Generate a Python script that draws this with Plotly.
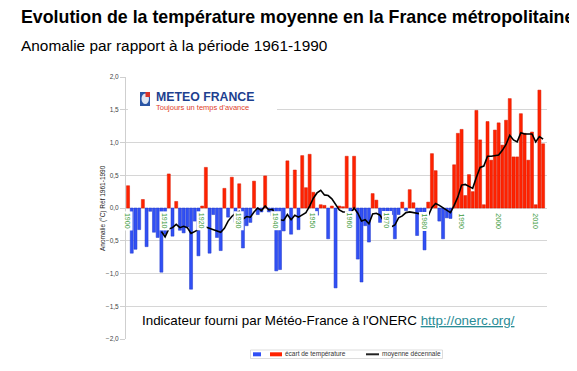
import plotly.graph_objects as go

# ---------------- data ----------------
years = list(range(1900, 2013))
anomaly = [
    0.34, -0.69, -0.63, -0.33, 0.13, -0.59, -0.05, -0.37, -0.45, -0.98,   # 1900-1909
    -0.40, 0.52, -0.43, 0.10, -0.34, -0.38, -0.29, -1.24, -0.20, -0.73,   # 1910-1919
    0.03, 0.62, -0.69, -0.10, -0.45, -0.65, 0.30, -0.14, 0.47, -0.22,     # 1920-1929
    0.37, -0.61, -0.27, -0.22, 0.41, -0.10, -0.06, 0.49, -0.06, -0.12,    # 1930-1939
    -0.96, -0.94, -0.35, 0.72, -0.40, 0.58, -0.33, 0.80, 0.31, 0.82,      # 1940-1949
    0.24, -0.11, 0.05, 0.04, -0.47, 0.03, -1.22, 0.03, 0.02, 0.79,        # 1950-1959
    -0.06, 0.79, -0.78, -1.13, -0.27, -0.52, 0.22, 0.12, -0.22, -0.12,    # 1960-1969
    -0.08, -0.10, -0.47, -0.10, 0.09, -0.04, 0.28, 0.08, -0.42, -0.11,    # 1970-1979
    -0.64, 0.09, 0.83, 0.57, -0.20, -0.47, -0.15, -0.16, 0.66, 1.14,      # 1980-1989
    1.20, 0.19, 0.51, 0.25, 1.49, 1.04, 0.05, 1.32, 0.73, 1.19,           # 1990-1999
    1.30, 0.96, 1.34, 1.67, 0.78, 0.78, 1.44, 1.14, 0.73, 1.16,           # 2000-2009
    0.05, 1.80, 0.98,                                                     # 2010-2012
]

decadal_years = list(range(1909, 2013))
decadal_mean = [
    -0.36,                                                                 # 1909
    -0.44, -0.32, -0.30, -0.25, -0.30, -0.28, -0.30, -0.39, -0.36, -0.34,  # 1910-1919
    -0.30, -0.29, -0.31, -0.33, -0.34, -0.37, -0.31, -0.20, -0.13, -0.08,  # 1920-1929
    -0.05, -0.17, -0.13, -0.14, -0.06, 0.00, -0.04, 0.03, -0.03, -0.02,    # 1930-1939
    -0.15, -0.18, -0.19, -0.10, -0.18, -0.11, -0.14, -0.11, -0.07, 0.03,   # 1940-1949
    0.15, 0.23, 0.27, 0.20, 0.19, 0.14, 0.05, -0.03, -0.06, -0.06,         # 1950-1959
    -0.09, 0.00, -0.08, -0.20, -0.18, -0.24, -0.09, -0.08, -0.11, -0.20,   # 1960-1969
    -0.20, -0.29, -0.26, -0.15, -0.12, -0.07, -0.06, -0.07, -0.09, -0.09,  # 1970-1979
    -0.14, -0.12, 0.01, 0.07, 0.04, 0.00, -0.04, -0.07, 0.04, 0.17,        # 1980-1989
    0.35, 0.36, 0.33, 0.30, 0.47, 0.62, 0.64, 0.79, 0.79, 0.80,            # 1990-1999
    0.81, 0.88, 0.97, 1.11, 1.04, 1.01, 1.15, 1.13, 1.13, 1.13,            # 2000-2009
    1.01, 1.09, 1.05,                                                      # 2010-2012
]

label_years = [1900, 1910, 1920, 1930, 1940, 1950, 1960, 1970, 1980, 1990, 2000, 2010]
y_ticks = [2.0, 1.5, 1.0, 0.5, 0.0, -0.5, -1.0, -1.5, -2.0]

title_text = "Evolution de la température moyenne en la France métropolitaine"
subtitle_text = "Anomalie par rapport à la période 1961-1990"
yaxis_title = "Anomalie (°C) Réf 1961-1990"
legend_bar_name = "écart de température"
legend_line_name = "moyenne décennale"
source_text = "Indicateur fourni par Météo-France à l'ONERC "
source_url = "http://onerc.org/"
logo_name = "METEO FRANCE"
logo_slogan = "Toujours un temps d'avance"

# ---------------- layout geometry (reference pixel coords) ----------------
OFF = 8                      # page body margin offsets the figure
W, H = 577 - OFF, 371 - OFF
PL, PR, PT, PB = 126, 547, 77, 339   # plot area in reference pixels
ML, MT = PL - OFF, PT - OFF
MR, MB = (W + OFF) - PR, (H + OFF) - PB
PW, PH = PR - PL, PB - PT
FONT = "Liberation Sans, Arial, sans-serif"

def px(x):
    return (x - PL) / PW

def py(y):
    return (PB - y) / PH

RED, RED_EDGE = "#ff2200", "#d81a00"
BLUE, BLUE_EDGE = "#3150f5", "#2038c8"

pos_vals = [v if v > 0 else None for v in anomaly]
neg_vals = [v if v <= 0 else None for v in anomaly]

fig = go.Figure()
fig.add_trace(go.Bar(x=years, y=neg_vals, name="",
                     marker=dict(color=BLUE, line=dict(color=BLUE_EDGE, width=0.5)), showlegend=False))
fig.add_trace(go.Bar(x=years, y=pos_vals, name=legend_bar_name,
                     marker=dict(color=RED, line=dict(color=RED_EDGE, width=0.5)), showlegend=False))
fig.add_trace(go.Scatter(x=decadal_years, y=decadal_mean, mode="lines", name=legend_line_name,
                         line=dict(color="black", width=1.6), showlegend=False))

annotations = []
for yr in label_years:
    annotations.append(dict(x=yr, y=0, xref="x", yref="y", text=str(yr), showarrow=False,
                            textangle=90, yanchor="top", xanchor="center", yshift=-3,
                            font=dict(family=FONT, size=7, color="#3d9b3d"),
                            bgcolor="white", borderpad=1))
annotations.append(dict(x=px(19), y=py(17), xref="paper", yref="paper", text="<b>" + title_text + "</b>",
                        showarrow=False, xanchor="left", yanchor="middle",
                        font=dict(family=FONT, size=17.8, color="black")))
annotations.append(dict(x=px(19), y=py(45), xref="paper", yref="paper", text=subtitle_text,
                        showarrow=False, xanchor="left", yanchor="middle",
                        font=dict(family=FONT, size=15.4, color="black")))
annotations.append(dict(x=px(154), y=py(101), xref="paper", yref="paper",
                        text="<b><span style='font-size:12.3px;color:#1d3f8f'>" + logo_name + "</span></b><br>"
                             "<span style='font-size:7.5px;color:#e0402a'>" + logo_slogan + "</span>",
                        showarrow=False, xanchor="left", yanchor="middle", align="left",
                        font=dict(family=FONT, size=7, color="#1d3f8f")))
annotations.append(dict(x=px(140), y=py(320), xref="paper", yref="paper",
                        text=source_text + "<span style='color:#2a8c96'><u>" + source_url + "</u></span>",
                        showarrow=False, xanchor="left", yanchor="middle",
                        font=dict(family=FONT, size=13.4, color="black")))
annotations.append(dict(x=px(103), y=0.5, xref="paper", yref="paper", text=yaxis_title,
                        showarrow=False, textangle=-90, xanchor="center", yanchor="middle",
                        font=dict(family=FONT, size=6.5, color="#222")))
annotations.append(dict(x=px(283), y=py(354.3), xref="paper", yref="paper", text=legend_bar_name,
                        showarrow=False, xanchor="left", yanchor="middle",
                        font=dict(family=FONT, size=6.5, color="#333")))
annotations.append(dict(x=px(379.5), y=py(354.3), xref="paper", yref="paper", text=legend_line_name,
                        showarrow=False, xanchor="left", yanchor="middle",
                        font=dict(family=FONT, size=6.5, color="#333")))

shapes = [
    dict(type="rect", xref="paper", yref="paper", x0=px(128), x1=px(277), y0=py(82), y1=py(118),
         fillcolor="white", line=dict(width=0), layer="above"),
    dict(type="rect", xref="paper", yref="paper", x0=px(140), x1=px(150), y0=py(92), y1=py(106),
         fillcolor="#2a55a5", line=dict(width=0), layer="above"),
    dict(type="circle", xref="paper", yref="paper", x0=px(141.5), x1=px(149), y0=py(93.5), y1=py(104),
         fillcolor="#dfe6f2", line=dict(width=0), layer="above"),
    dict(type="rect", xref="paper", yref="paper", x0=px(145.5), x1=px(150), y0=py(92), y1=py(97),
         fillcolor="#d8342a", line=dict(width=0), layer="above"),
    dict(type="rect", xref="paper", yref="paper", x0=px(250.5), x1=px(442.5), y0=py(350), y1=py(358.5),
         fillcolor="white", line=dict(color="#cfcfcf", width=0.7)),
    dict(type="rect", xref="paper", yref="paper", x0=px(253), x1=px(261), y0=py(352.3), y1=py(356.3),
         fillcolor=BLUE, line=dict(width=0)),
    dict(type="rect", xref="paper", yref="paper", x0=px(270), x1=px(282), y0=py(352.3), y1=py(356.3),
         fillcolor=RED, line=dict(width=0)),
    dict(type="line", xref="paper", yref="paper", x0=px(366), x1=px(379), y0=py(354.3), y1=py(354.3),
         line=dict(color="#222", width=2)),
]

fig.update_layout(
    width=W, height=H,
    margin=dict(l=ML, r=MR, t=MT, b=MB, pad=0),
    paper_bgcolor="white", plot_bgcolor="white",
    barmode="overlay", bargap=0.18,
    separators=", ",
    font=dict(family=FONT, size=7, color="#333"),
    annotations=annotations, shapes=shapes,
    showlegend=False,
    xaxis=dict(range=[1899.45, 2013.05], showticklabels=False, showgrid=False, zeroline=False,
               showline=False, ticks=""),
    yaxis=dict(range=[-2, 2], tickvals=y_ticks, tickformat=".1f", showgrid=True, gridcolor="#d6d6d6",
               gridwidth=1, zeroline=False, showline=True, linecolor="#cfcfcf", linewidth=1,
               ticks="outside", ticklen=5, tickcolor="#cfcfcf",
               tickfont=dict(family=FONT, size=6.5, color="#444")),
)

fig.write_html("out.html")
